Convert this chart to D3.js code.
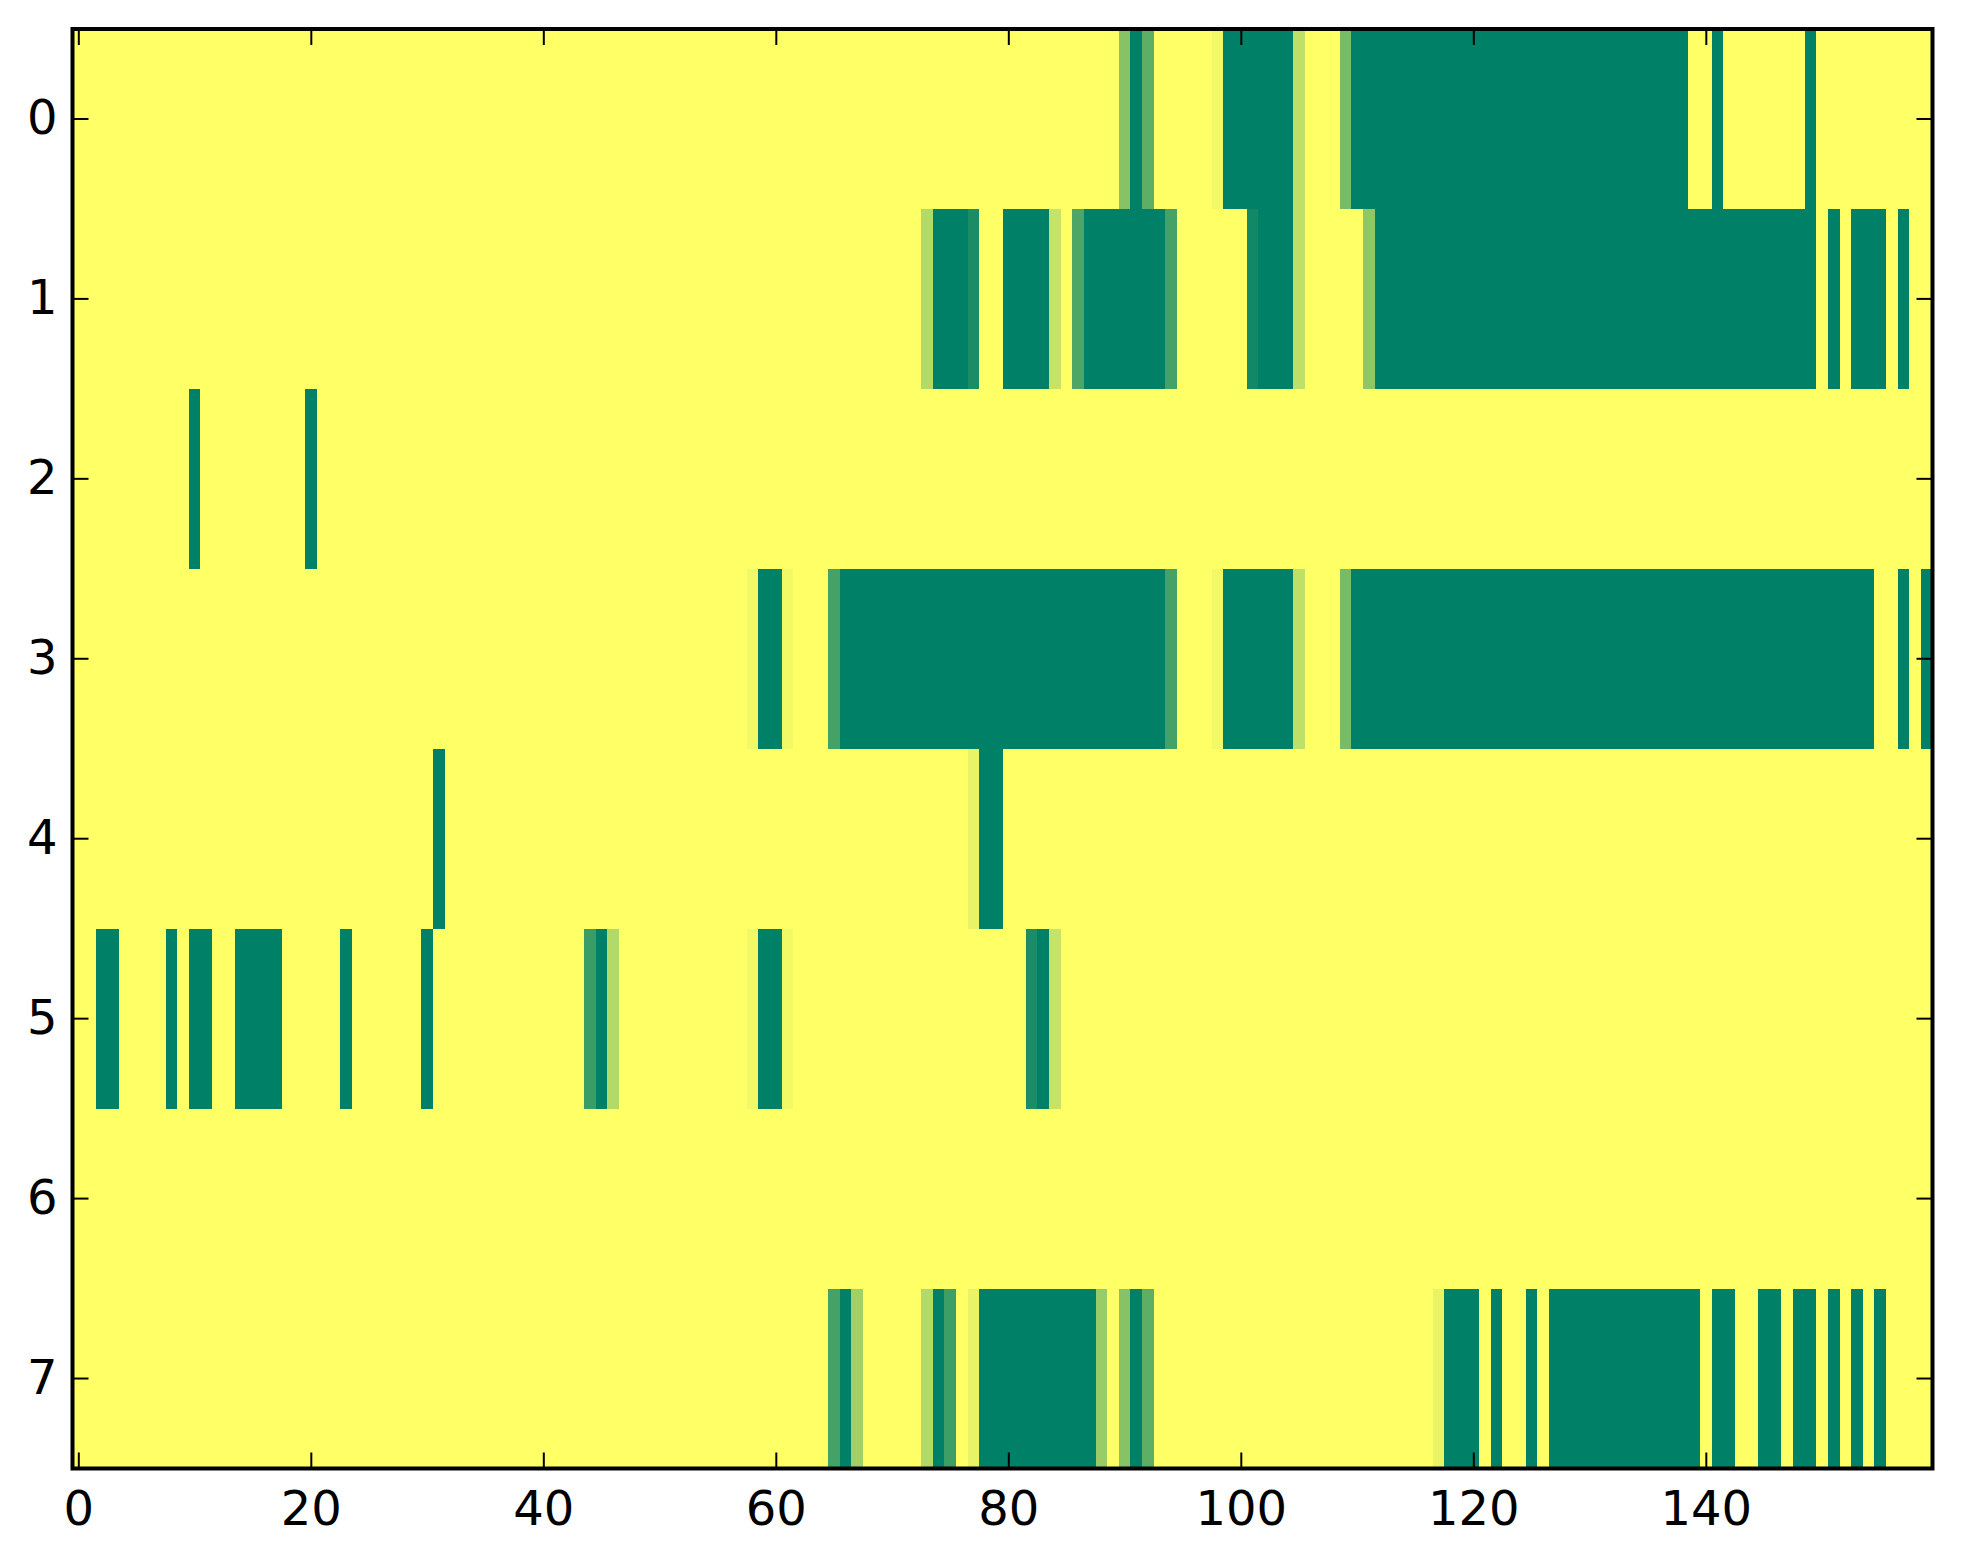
<!DOCTYPE html>
<html>
<head>
<meta charset="utf-8">
<script src="https://cdn.jsdelivr.net/npm/d3@7"></script>
<style>
  body { margin: 0; background: #fff; }
  text { font-family: "DejaVu Sans", sans-serif; }
</style>
</head>
<body>
<div id="chart"></div>
<script>
// Image data: 8 rows x 160 columns, value 1 = background (yellow).
// Each row lists only its non-background runs as [fromCol, toCol, value].
var nCols = 160;
var rowLabels = [0, 1, 2, 3, 4, 5, 6, 7];
var xTicks = [0, 20, 40, 60, 80, 100, 120, 140];

var row0 = [[90, 90, 0.53], [91, 91, 0], [92, 92, 0.37], [98, 98, 0.95], [99, 104, 0],
  [105, 105, 0.75], [109, 109, 0.47], [110, 138, 0], [141, 141, 0], [149, 149, 0]];
var row1 = [[73, 73, 0.7], [74, 76, 0], [77, 77, 0.1], [80, 83, 0], [84, 84, 0.78],
  [86, 86, 0.3], [87, 93, 0], [94, 94, 0.27], [101, 101, 0.07], [102, 104, 0],
  [105, 105, 0.75], [111, 111, 0.56], [112, 149, 0], [151, 151, 0], [153, 155, 0], [157, 157, 0]];
var row2 = [[10, 10, 0], [20, 20, 0]];
var row3 = [[58, 58, 0.95], [59, 60, 0], [61, 61, 0.95], [65, 65, 0.27], [66, 93, 0],
  [94, 94, 0.27], [98, 98, 0.95], [99, 104, 0], [105, 105, 0.75], [109, 109, 0.47],
  [110, 154, 0], [157, 157, 0], [159, 159, 0]];
var row4 = [[31, 31, 0], [77, 77, 0.91], [78, 79, 0]];
var row5 = [[2, 3, 0], [8, 8, 0], [10, 11, 0], [14, 17, 0], [23, 23, 0], [30, 30, 0],
  [44, 44, 0.23], [45, 45, 0], [46, 46, 0.7], [58, 58, 0.95], [59, 60, 0], [61, 61, 0.95],
  [82, 82, 0.1], [83, 83, 0], [84, 84, 0.78]];
var row6 = [];
var row7 = [[65, 65, 0.27], [66, 66, 0], [67, 67, 0.63], [73, 73, 0.7], [74, 74, 0],
  [75, 75, 0.24], [77, 77, 0.91], [78, 87, 0], [88, 88, 0.6], [90, 90, 0.53], [91, 91, 0],
  [92, 92, 0.37], [117, 117, 0.91], [118, 120, 0], [122, 122, 0], [125, 125, 0],
  [127, 139, 0], [141, 142, 0], [145, 146, 0], [148, 149, 0], [151, 151, 0],
  [153, 153, 0], [155, 155, 0]];

var rowRuns = [row0, row1, row2, row3, row4, row5, row6, row7];

// Expand runs into a flat list of cells
var cells = [];
rowRuns.forEach(function (runs, r) {
  var vals = new Array(nCols).fill(1);
  runs.forEach(function (run) {
    for (var c = run[0]; c <= run[1]; c++) vals[c] = run[2];
  });
  vals.forEach(function (v, c) { cells.push({ row: r, col: c, value: v }); });
});

// Dimensions
var W = 1963, H = 1564;
var plot = { left: 72.5, right: 1932.5, top: 29, bottom: 1468.5 };

var svg = d3.select("#chart")
  .append("svg")
  .attr("width", W)
  .attr("height", H);

var x = d3.scaleLinear()
  .domain([-0.5, nCols - 0.5])
  .range([plot.left, plot.right]);

var y = d3.scaleBand()
  .domain(rowLabels)
  .range([plot.top, plot.bottom])
  .padding(0);

// matplotlib "summer" colormap
var color = d3.scaleLinear()
  .domain([0, 1])
  .range(["#008066", "#ffff66"]);

svg.append("g")
  .attr("shape-rendering", "crispEdges")
  .selectAll("rect")
  .data(cells)
  .enter()
  .append("rect")
  .attr("x", d => x(d.col - 0.5))
  .attr("y", d => y(d.row))
  .attr("width", d => x(d.col + 0.5) - x(d.col - 0.5) + 0.5)
  .attr("height", y.bandwidth() + 0.5)
  .attr("fill", d => color(d.value));

// Axes: ticks point inward on all four sides
var fontSize = 48;

function styleAxis(g) {
  g.select(".domain").remove();
  g.selectAll(".tick line").attr("stroke", "#000").attr("stroke-width", 2);
  g.selectAll(".tick text")
    .attr("fill", "#000")
    .style("font-size", fontSize + "px")
    .style("font-family", "'DejaVu Sans', sans-serif");
}

svg.append("g")
  .attr("transform", "translate(0," + plot.bottom + ")")
  .call(d3.axisBottom(x).tickValues(xTicks).tickSizeInner(-16).tickSizeOuter(0).tickPadding(22))
  .call(styleAxis);

svg.append("g")
  .attr("transform", "translate(0," + plot.top + ")")
  .call(d3.axisTop(x).tickValues(xTicks).tickSizeInner(-16).tickSizeOuter(0).tickFormat(""))
  .call(styleAxis);

svg.append("g")
  .attr("transform", "translate(" + plot.left + ",0)")
  .call(d3.axisLeft(y).tickSizeInner(-16).tickSizeOuter(0).tickPadding(15))
  .call(styleAxis);

svg.append("g")
  .attr("transform", "translate(" + plot.right + ",0)")
  .call(d3.axisRight(y).tickSizeInner(-16).tickSizeOuter(0).tickFormat(""))
  .call(styleAxis);

// Frame
svg.append("rect")
  .attr("x", plot.left)
  .attr("y", plot.top)
  .attr("width", plot.right - plot.left)
  .attr("height", plot.bottom - plot.top)
  .attr("fill", "none")
  .attr("stroke", "#000")
  .attr("stroke-width", 4);
</script>
</body>
</html>
